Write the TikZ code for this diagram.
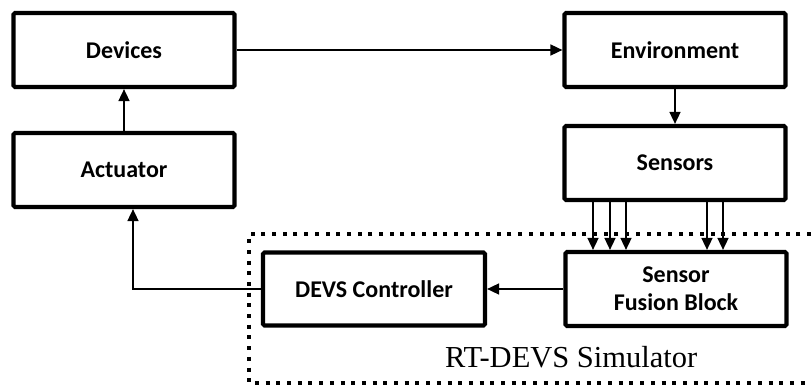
\documentclass[tikz,border=0pt]{standalone}
\usepackage{fontspec}
\setmainfont{Liberation Serif}
\newfontfamily\boxfont{Carlito}
\usetikzlibrary{arrows.meta}
\begin{document}
\begin{tikzpicture}[x=1pt,y=-1pt,
  blk/.style={draw, line width=4.2pt, rounded corners=1.5pt, minimum width=221pt, minimum height=74pt, inner sep=0pt, align=center, font=\boxfont\bfseries\fontsize{24}{28}\selectfont},
  conn/.style={line width=1.6pt, -{Triangle[length=12pt,width=11pt]}},
  plain/.style={line width=1.6pt}]
\useasboundingbox (0,0) rectangle (811,385);
% dotted simulator frame
\draw[line width=4pt, dash pattern=on 4pt off 6.7pt] (811,234) -- (249,234) -- (249,383) -- (811,383);
\node[font=\fontsize{30.5}{34}\selectfont, anchor=base west, inner sep=0pt] (sim) at (445,367) {RT-DEVS Simulator};
% blocks
\node[blk] (dev) at (124,50) {Devices};
\node[blk] (act) at (124,170) {Actuator};
\node[blk] (env) at (675,50) {Environment};
\node[blk] (sen) at (675,163) {Sensors};
\node[blk] (fus) at (676,289) {Sensor\\Fusion Block};
\node[blk, minimum width=222pt, minimum height=73pt] (ctl) at (374,289) {DEVS Controller};
% connectors
\draw[conn] (dev.east) -- (env.west);
\draw[conn] (env.south) -- (sen.north);
\draw[conn] (act.north) -- (dev.south);
\draw[conn] (fus.west) -- (ctl.east);
\coordinate (bend) at (133,289);
\draw[conn] (ctl.west) -- (bend) -- (bend |- act.south);
\foreach \xx in {593,610,626,707,723}{
  \draw[conn] (sen.south -| \xx,0) -- (fus.north -| \xx,0);
}
\end{tikzpicture}
\end{document}
